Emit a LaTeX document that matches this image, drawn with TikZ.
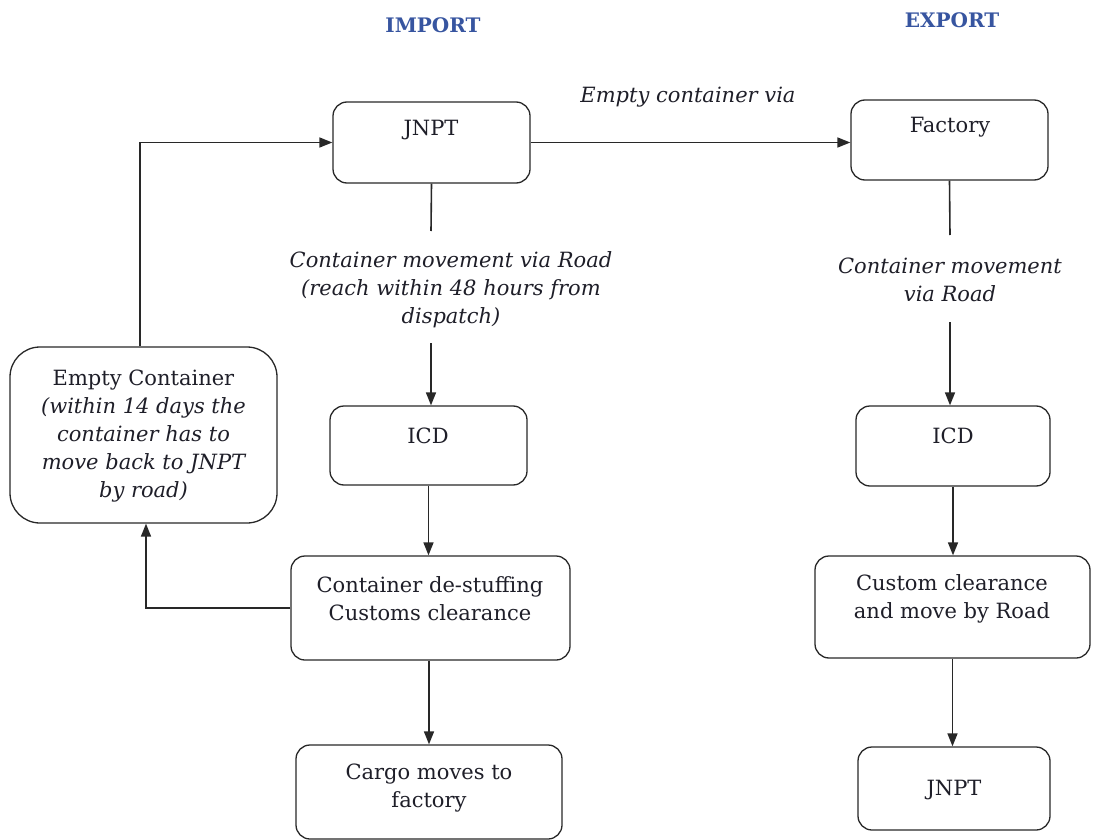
\documentclass[tikz,border=0pt]{standalone}
\usepackage{fontspec}
\setmainfont{DejaVu Serif}
\usetikzlibrary{arrows.meta}
\definecolor{titleblue}{RGB}{55,85,160}
\definecolor{txt}{RGB}{30,30,40}
\definecolor{edge}{RGB}{40,40,40}
\begin{document}
\begin{tikzpicture}[x=1pt,y=-1pt,
  box/.style={draw=edge,line width=1.3pt,rounded corners=14pt,inner sep=0pt},
  txtnode/.style={align=center,text=txt,font=\fontsize{21}{28}\selectfont,inner sep=0pt},
  itnode/.style={align=center,text=txt,font=\fontsize{21}{28}\selectfont\itshape,inner sep=0pt},
  ttl/.style={text=titleblue,font=\fontsize{20}{24}\selectfont\bfseries,inner sep=0pt},
  conn/.style={draw=edge,line width=1.6pt},
  arr/.style={conn,-{Triangle[length=13pt,width=10pt]}}]
\useasboundingbox (0,0) rectangle (1093,840);

\node[ttl] (timport) at (433,25) {IMPORT};
\node[ttl] (texport) at (952,20) {EXPORT};

% boxes
\node[box,minimum width=197pt,minimum height=81pt] (jnpt) at (431.5,142.5) {};
\node[box,minimum width=197pt,minimum height=80pt] (factory) at (949.5,140) {};
\node[box,minimum width=197pt,minimum height=79pt] (icdL) at (428.5,445.5) {};
\node[box,minimum width=194pt,minimum height=80pt] (icdR) at (953,446) {};
\node[box,minimum width=279pt,minimum height=104pt] (destuff) at (430.5,608) {};
\node[box,minimum width=275pt,minimum height=102pt] (custom) at (952.5,607) {};
\node[box,minimum width=266pt,minimum height=94pt] (cargo) at (429,792) {};
\node[box,minimum width=192pt,minimum height=83pt] (jnptR) at (954,788.5) {};
\node[box,rounded corners=30pt,minimum width=267pt,minimum height=176pt] (empty) at (143.5,435) {};

% box texts
\node[txtnode] (tjnpt) at (431,130) {JNPT};
\node[txtnode] (tfactory) at (950,127) {Factory};
\node[txtnode] (ticdL) at (428,436) {ICD};
\node[txtnode] (ticdR) at (953,436) {ICD};
\node[txtnode] (tdestuff) at (430,598.5) {Container de-stuffing\\Customs clearance};
\node[txtnode] (tcustom) at (952,598.5) {Custom clearance\\and move by Road};
\node[txtnode] (tcargo) at (429,788) {Cargo moves to\\factory};
\node[txtnode] (tjnptR) at (954,790) {JNPT};
\node[txtnode] (tempty) at (143.5,436) {Empty Container\\{\itshape (within 14 days the}\\{\itshape container has to}\\{\itshape move back to JNPT}\\{\itshape by road)}};

% labels
\node[itnode] (lvia) at (688,97) {Empty container via};
\node[itnode] (lroadL) at (451,290) {Container movement via Road\\(reach within 48 hours from\\dispatch)};
\node[itnode] (lroadR) at (950,280) {Container movement\\via Road};

% connectors
\coordinate (sL1) at (431,231);
\coordinate (sL2) at (431,343);
\coordinate (sR1) at (950,235);
\coordinate (sR2) at (950,322);
\draw[conn] (jnpt.south) -- (sL1);
\draw[arr] (sL2) -- (icdL.north -| sL2);
\draw[conn] (factory.south) -- (sR1);
\draw[arr] (sR2) -- (icdR.north -| sR2);
\draw[arr] (jnpt.east) -- (factory.west |- jnpt.east);
\draw[arr] (icdL.south) -- (destuff.north -| icdL.south);
\draw[arr] (destuff.south -| cargo.north) -- (cargo.north);
\draw[arr] (icdR.south) -- (custom.north -| icdR.south);
\draw[arr] (custom.south) -- (jnptR.north -| custom.south);
\coordinate (lb) at (146,608);
\draw[arr] (destuff.west) -- (lb) -- (lb |- empty.south);
\coordinate (lt) at (140,142.5);
\draw[arr] (lt |- empty.north) -- (lt) -- (jnpt.west);
\end{tikzpicture}
\end{document}
